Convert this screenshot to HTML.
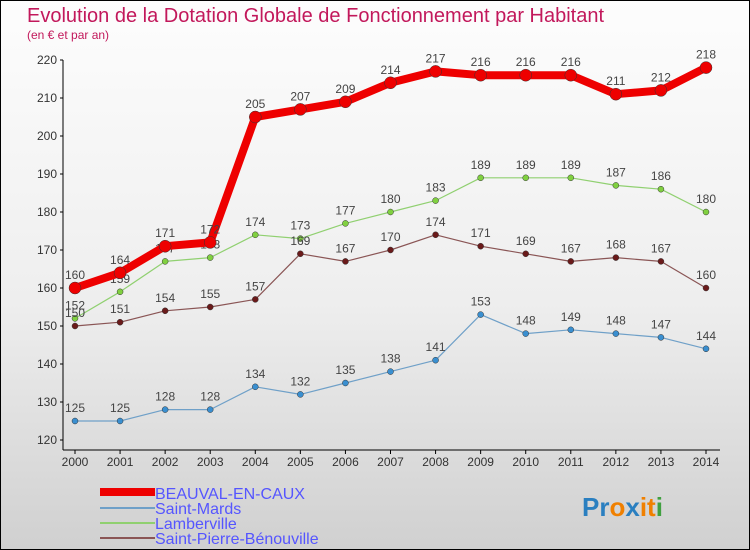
<!DOCTYPE html>
<html><head><meta charset="utf-8"><style>
body{margin:0;width:750px;height:550px;overflow:hidden;font-family:"Liberation Sans",sans-serif}
svg{display:block}
</style></head><body>
<svg width="750" height="550">
<defs><linearGradient id="bg" x1="0" y1="0" x2="0" y2="1"><stop offset="0" stop-color="#fdfdfd"/><stop offset="0.55" stop-color="#eeeeee"/><stop offset="1" stop-color="#d0d0d0"/></linearGradient></defs>
<rect x="0.5" y="0.5" width="749" height="549" fill="url(#bg)" stroke="#000"/>
<text x="27" y="22" font-size="20" fill="#c2185b">Evolution de la Dotation Globale de Fonctionnement par Habitant</text>
<text x="27" y="39" font-size="12" fill="#c2185b">(en € et par an)</text>
<g id="axes"></g><g id="series"></g>
<g font-size="16" fill="#5555ff">
<rect x="100" y="488" width="55" height="8" fill="#e00"/>
<text x="155" y="499">BEAUVAL-EN-CAUX</text>
<rect x="100" y="507" width="55" height="2" fill="#6fa0c8"/>
<text x="155" y="514">Saint-Mards</text>
<rect x="100" y="522" width="55" height="2" fill="#90d070"/>
<text x="155" y="529">Lamberville</text>
<rect x="100" y="537" width="55" height="2" fill="#8a5555"/>
<text x="155" y="544">Saint-Pierre-Bénouville</text>
</g>
<text x="582" y="516" font-size="26" font-weight="bold"><tspan fill="#2a7fc0">Pr</tspan><tspan fill="#f08000">o</tspan><tspan fill="#2a7fc0">x</tspan><tspan fill="#f08000">it</tspan><tspan fill="#40a040">i</tspan></text>
</svg>
<script>
const years=[2000,2001,2002,2003,2004,2005,2006,2007,2008,2009,2010,2011,2012,2013,2014];
const yTicks=[120,130,140,150,160,170,180,190,200,210,220];
const beauval=[160,164,171,172,205,207,209,214,217,216,216,216,211,212,218];
const saintMards=[125,125,128,128,134,132,135,138,141,153,148,149,148,147,144];
const lamberville=[152,159,167,168,174,173,177,180,183,189,189,189,187,186,180];
const saintPierre=[150,151,154,155,157,169,167,170,174,171,169,167,168,167,160];
const NS="http://www.w3.org/2000/svg";
const X=i=>75+i*(706-75)/14;
const Y=v=>440-(v-120)*3.8;
function mk(t,a,p){const e=document.createElementNS(NS,t);for(const k in a)e.setAttribute(k,a[k]);p.appendChild(e);return e;}
const ax=document.getElementById('axes');
const yl=mk('line',{x1:63,y1:Y(220),x2:63,y2:450,stroke:'#000'},ax);


const xl=mk('line',{x1:63,y1:450,x2:720,y2:450,stroke:'#000'},ax);


yTicks.forEach(v=>{
 mk('line',{x1:60,y1:Y(v),x2:63,y2:Y(v),stroke:'#000'},ax);
 const t=mk('text',{x:57,y:Y(v)+4,'font-size':12,'text-anchor':'end',fill:'#333'},ax);t.textContent=v;
 
 
});
years.forEach((y,i)=>{
 mk('line',{x1:X(i),y1:450,x2:X(i),y2:454,stroke:'#000'},ax);
 const t=mk('text',{x:X(i),y:466,'font-size':12,'text-anchor':'middle',fill:'#333'},ax);t.textContent=y;
 
 
});
const sg=document.getElementById('series');
function series(data,color,dot,w,r,name,lc){
 const g=mk('g',{},sg);
 
 
 const p=mk('polyline',{points:data.map((v,i)=>X(i)+','+Y(v)).join(' '),fill:'none',stroke:color,'stroke-width':w,'stroke-linejoin':'round'},g);
 
 
 data.forEach((v,i)=>{
  const c=mk('circle',{cx:X(i),cy:Y(v),r:r,fill:dot,stroke:'#333','stroke-width':0.5},g);
  
  
  const t=mk('text',{x:X(i),y:Y(v)-9,'font-size':12,'text-anchor':'middle',fill:lc},g);t.textContent=v;
  
  
 });
}
series(saintMards,'#6fa0c8','#3a8fd0',1.2,3,'series-saint-mards','#444');
series(lamberville,'#90d070','#80d040',1.2,3,'series-lamberville','#444');
series(saintPierre,'#8a5555','#6a1a1a',1.2,3,'series-saint-pierre','#444');
series(beauval,'#ee0000','#ee0000',8,6,'series-beauval','#444');
</script>
</body></html>
